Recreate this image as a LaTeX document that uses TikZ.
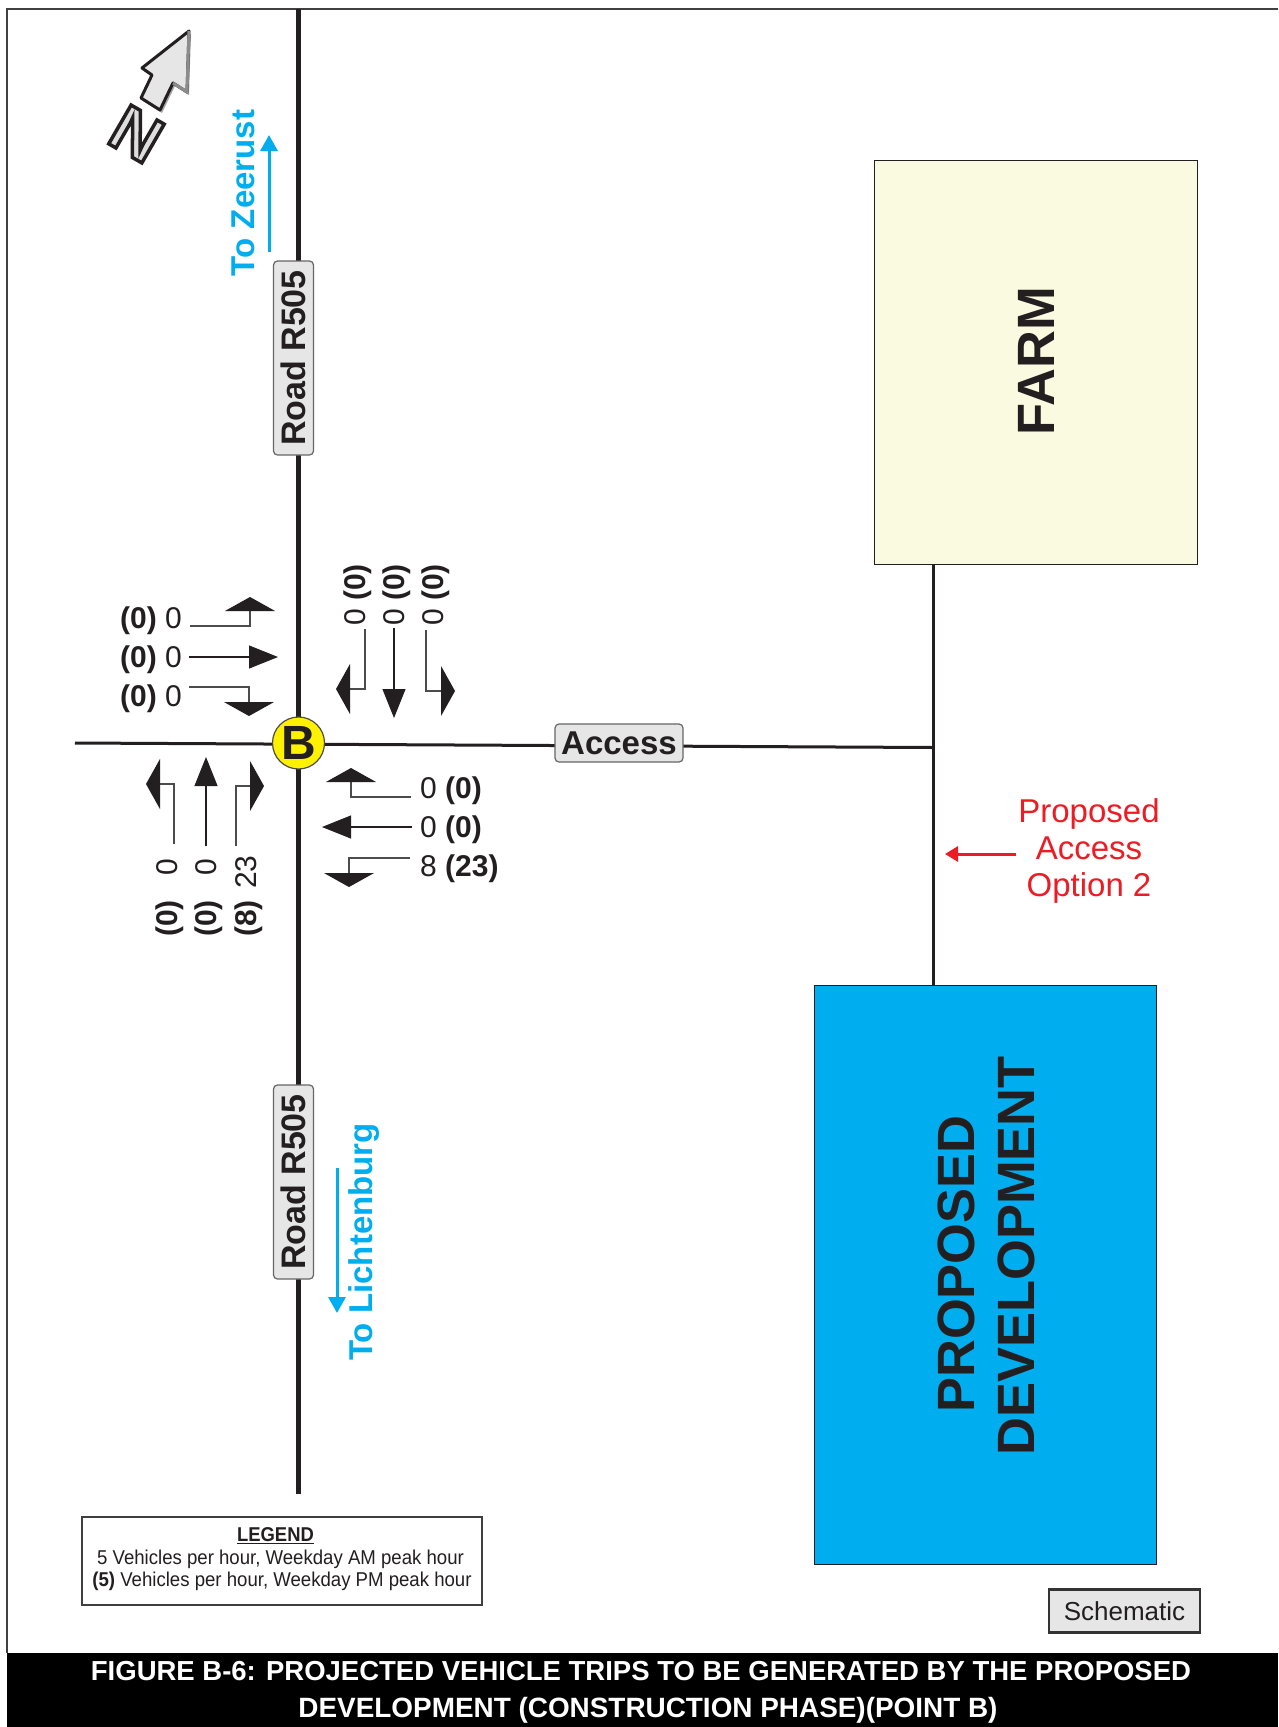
\documentclass[tikz,border=0pt]{standalone}
\usepackage{fontspec}
\usepackage{graphicx}
\setmainfont{Liberation Sans}
\usetikzlibrary{arrows.meta}
\definecolor{cyanb}{HTML}{00AEEF}
\definecolor{redb}{HTML}{ED1C24}
\definecolor{inkb}{HTML}{231F20}
\definecolor{farmy}{HTML}{FAFAE0}
\definecolor{labelg}{HTML}{E6E6E6}
\newcommand{\fs}[1]{\fontsize{#1}{#1}\selectfont}
\tikzset{
  x=1pt,y=-1pt,
  road/.style={draw=inkb,line width=4.4pt},
  sideroad/.style={draw=inkb,line width=3pt},
  roadlabel/.style={draw=black!60,fill=labelg,rounded corners=4pt,line width=1.2pt,font=\fs{34}\bfseries,text=inkb,inner sep=0pt,minimum height=40pt},
  acclabel/.style={draw=black!60,fill=labelg,rounded corners=4pt,line width=1.2pt,font=\fs{33}\bfseries,text=inkb,inner sep=0pt,minimum height=38pt},
  turn/.style={draw=black!70,line width=1.1pt,-{Triangle[length=14pt,width=50pt,color=inkb]}},
  thru/.style={draw=inkb,line width=1.1pt,-{Triangle[length=29pt,width=23pt,color=inkb]}},
  count/.style={font=\fs{30},text=inkb,inner sep=0pt,text height=22pt,text depth=5pt},
  dirarrow/.style={draw=cyanb,line width=3pt,-{Triangle[length=16pt,width=17pt]}},
  dirtext/.style={font=\fs{33}\bfseries,text=cyanb,rotate=90,inner sep=0pt},
  bigtext/.style={font=\fs{52.5}\bfseries,text=inkb,rotate=90,inner sep=0pt},
}
\begin{document}
\begin{tikzpicture}
\useasboundingbox (0,0) rectangle (1278,1727);
\fill[white] (0,0) rectangle (1278,1727);
% frame
\draw[black!75,line width=1.4pt] (7,1653) -- (7,9) -- (1278,9);
% title bar
\fill[black] (7,1653) rectangle (1278,1727);
\node[font=\fs{27.5}\bfseries,text=white,inner sep=0pt] (title1) at (641,1671) {FIGURE B-6: PROJECTED VEHICLE TRIPS TO BE GENERATED BY THE PROPOSED};
\node[font=\fs{27.9}\bfseries,text=white,inner sep=0pt] (title2) at (648,1710) {DEVELOPMENT (CONSTRUCTION PHASE)(POINT B)};
% road coordinates
\coordinate (rtop) at (298.5,9);
\coordinate (rbot) at (298.5,1494);
\coordinate (hleft) at (75,743);
\coordinate (hright) at (933,747.5);
\coordinate (vtop) at (933,564);
\coordinate (vbot) at (933,986);
\draw[road] (rtop) -- (rbot);
\draw[sideroad] (hleft) -- (hright);
\draw[sideroad] (vtop) -- (vbot);
% buildings
\node[draw=inkb,line width=1pt,fill=farmy,minimum width=323pt,minimum height=404pt,inner sep=0pt] (farm) at (1035.5,362) {};
\node[bigtext] (farmtext) at (1036,361) {FARM};
\node[draw=inkb,line width=1pt,fill=cyanb,minimum width=342pt,minimum height=579pt,inner sep=0pt] (dev) at (985,1275) {};
\node[bigtext] (dev1) at (956,1264) {PROPOSED};
\node[bigtext] (dev2) at (1016,1256) {DEVELOPMENT};
% road labels
\node[roadlabel,rotate=90,minimum width=194pt] (r1) at (293.5,358) {Road R505};
\node[roadlabel,rotate=90,minimum width=194pt] (r2) at (293.5,1182) {Road R505};
\node[acclabel,minimum width=128pt] (acc) at (619,743) {Access};
% B
\node[circle,draw=black!70,line width=1.2pt,fill=yellow,minimum size=52pt,inner sep=0pt,font=\fs{48}\bfseries,text=inkb] (b) at (298.5,743) {B};
% north arrow
\fill[black!35] (191,34) -- (144,71) -- (154,78) -- (143,101) -- (162,113) -- (175,86) -- (189,95) -- cycle;
\draw[draw=inkb,line width=3pt,fill=labelg,line join=round] (189,31) -- (142,68) -- (152,75) -- (141,98) -- (160,110) -- (173,83) -- (187,92) -- cycle;
\draw[black!45,line width=3pt] (189,31) -- (187,92) -- (173,83);
\node[rotate=-30,inner sep=0pt,font=\fs{65}\bfseries] (north) at (136.5,134) {\special{pdf:code 2 Tr 3.5 w 0.14 0.12 0.13 RG 0.87 g}N\special{pdf:code 0 Tr 0 g}};
% direction labels
\coordinate (zs) at (269,252); \coordinate (ze) at (269,135);
\draw[dirarrow] (zs) -- (ze);
\node[dirtext] (zt) at (243,193) {To Zeerust};
\coordinate (ls) at (337,1168); \coordinate (le) at (337,1313);
\draw[dirarrow] (ls) -- (le);
\node[dirtext] (lt) at (364,1242) {To Lichtenburg};
% proposed access
\node[align=center,font=\fs{33},text=redb,inner sep=0pt] (pa) at (1089,851) {Proposed\\[4pt]Access\\[4pt]Option 2};
\coordinate (pas) at (1016,854); \coordinate (pae) at (945,854);
\draw[draw=redb,line width=3pt,-{Triangle[length=13pt,width=15pt]}] (pas) -- (pae);
% NW counts
\node[count,anchor=east] (nw1) at (182,620) {\textbf{(0)} 0};
\node[count,anchor=east] (nw2) at (182,659) {\textbf{(0)} 0};
\node[count,anchor=east] (nw3) at (182,698) {\textbf{(0)} 0};
\coordinate (nw1a) at (190,626); \coordinate (nw1b) at (250,597);
\coordinate (nw2a) at (189,657); \coordinate (nw2b) at (278,657);
\coordinate (nw3a) at (189,687); \coordinate (nw3b) at (249,716);
\draw[turn] (nw1a) -| (nw1b);
\draw[thru] (nw2a) -- (nw2b);
\draw[turn] (nw3a) -| (nw3b);
% NE counts
\node[count,rotate=90,anchor=west] (ne1) at (357,626) {0 \textbf{(0)}};
\node[count,rotate=90,anchor=west] (ne2) at (396,626) {0 \textbf{(0)}};
\node[count,rotate=90,anchor=west] (ne3) at (435,626) {0 \textbf{(0)}};
\coordinate (ne1a) at (365,629); \coordinate (ne1b) at (336,689);
\coordinate (ne2a) at (394,628); \coordinate (ne2b) at (394,718);
\coordinate (ne3a) at (426,630); \coordinate (ne3b) at (455,691);
\draw[turn] (ne1a) |- (ne1b);
\draw[thru] (ne2a) -- (ne2b);
\draw[turn] (ne3a) |- (ne3b);
% SE counts
\node[count,anchor=west] (se1) at (420,790) {0 \textbf{(0)}};
\node[count,anchor=west] (se2) at (420,829) {0 \textbf{(0)}};
\node[count,anchor=west] (se3) at (420,868) {8 \textbf{(23)}};
\coordinate (se1a) at (411,797); \coordinate (se1b) at (351,768);
\coordinate (se2a) at (412,827); \coordinate (se2b) at (322,827);
\coordinate (se3a) at (410,858); \coordinate (se3b) at (349,887);
\draw[turn] (se1a) -| (se1b);
\draw[thru] (se2a) -- (se2b);
\draw[turn] (se3a) -| (se3b);
% SW counts
\node[count,rotate=90,anchor=west] (sw1) at (169,937) {\textbf{(0)}\hspace{16pt} 0};
\node[count,rotate=90,anchor=west] (sw2) at (208,937) {\textbf{(0)}\hspace{16pt} 0};
\node[count,rotate=90,anchor=west] (sw3) at (248,937) {\textbf{(8)}\hspace{3pt} 23};
\coordinate (sw1a) at (174,844); \coordinate (sw1b) at (146,784);
\coordinate (sw2a) at (206,846); \coordinate (sw2b) at (206,757);
\coordinate (sw3a) at (236,846); \coordinate (sw3b) at (264,786);
\draw[turn] (sw1a) |- (sw1b);
\draw[thru] (sw2a) -- (sw2b);
\draw[turn] (sw3a) |- (sw3b);
% legend
\node[draw=black!75,line width=1.2pt,fill=white,minimum width=400pt,minimum height=88pt,inner sep=0pt] (legend) at (282,1561) {};
\node[font=\fs{20}\bfseries,text=inkb,inner sep=0pt] (lg0) at (275.5,1536) {\scalebox{.92}[1]{\underline{LEGEND}}};
\node[font=\fs{20},text=inkb,inner sep=0pt] (lg1) at (280.5,1559) {\scalebox{.93}[1]{5 Vehicles per hour, Weekday AM peak hour}};
\node[font=\fs{20},text=inkb,inner sep=0pt] (lg2) at (282,1581) {\scalebox{.93}[1]{\textbf{(5)} Vehicles per hour, Weekday PM peak hour}};
% schematic
\node[draw=black!80,line width=2.2pt,fill=labelg,minimum width=151pt,minimum height=43pt,inner sep=0pt,font=\fs{26},text=inkb] (sch) at (1124.5,1611) {Schematic};
\end{tikzpicture}
\end{document}
